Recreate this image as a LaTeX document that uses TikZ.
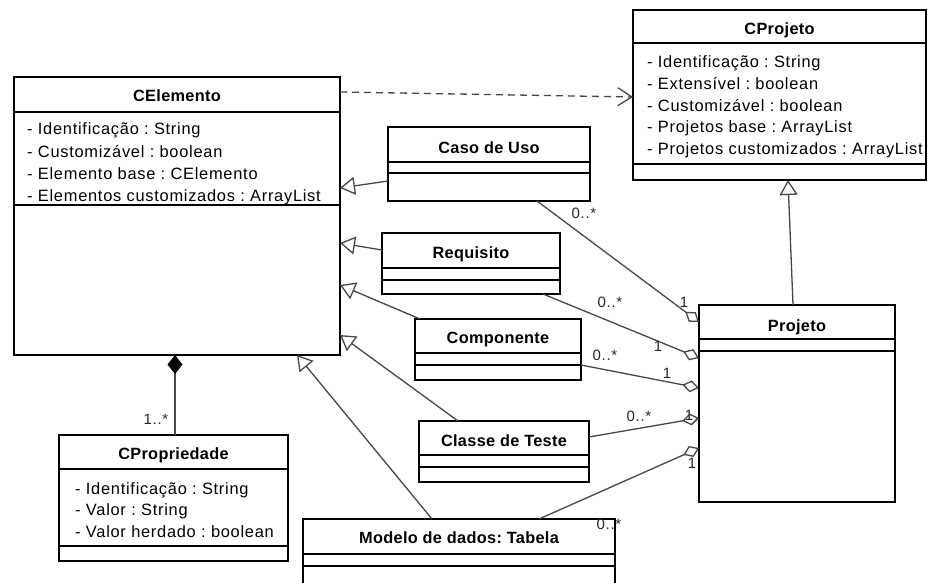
\documentclass[tikz,border=0pt]{standalone}
\usepackage{fontspec}
\setmainfont{Liberation Sans}
\newfontfamily\umlfont{Liberation Sans}[LetterSpace=4.5]
\newfontfamily\umltitlefont{Liberation Sans}[LetterSpace=2]
\usetikzlibrary{arrows.meta}
\frenchspacing

% A UML class box from its top-left (x1,y1) to bottom-right (x2,y2) corner
\newcommand\umlclass[5]{%
  \node[classbox, minimum width={(#4-#2)*1pt}, minimum height={(#5-#3)*1pt}] (#1) at (#2,#3) {};}
% A compartment separator across class #1 at height #2
\newcommand\cdivider[2]{\draw[divider] (#1.west |- 0,#2) -- (#1.east |- 0,#2);}

\begin{document}
\begin{tikzpicture}[x=1pt, y=-1pt,
  classbox/.style={draw, rectangle, line width=2.6pt, fill=white, inner sep=0pt, outer sep=0pt, anchor=north west},
  divider/.style={line width=1.6pt},
  ctitle/.style={font=\umltitlefont\fontsize{16.3}{18}\selectfont\bfseries, anchor=base, inner sep=0pt},
  attr/.style={font=\umlfont\fontsize{16.4}{18}\selectfont, anchor=base west, inner sep=0pt},
  link/.style={draw=black!72, line width=1.3pt},
  gen/.style={link, -{Triangle[open, length=15pt, width=18pt, line width=1.3pt]}},
  agg/.style={link, -{Diamond[open, length=17pt, width=12pt, line width=1.3pt]}},
  comp/.style={link, -{Diamond[length=19pt, width=15pt, color=black, fill=black]}},
  dep/.style={link, dash pattern=on 7pt off 5pt, -{Straight Barb[length=14pt, width=18pt, line width=1.3pt]}},
  mult/.style={font=\umlfont\fontsize{15}{17}\selectfont, inner sep=0pt, text=black!85},
]
\useasboundingbox[fill=white] (0,0) rectangle (928,583);

% ---- class boxes ----
\umlclass{celem}{14}{77}{340}{355}
\cdivider{celem}{112}\cdivider{celem}{205}
\node[ctitle] (celem-t) at (177,102) {CElemento};
\foreach \t [count=\i] in {- Identificação : String, - Customizável : boolean, - Elemento base : CElemento, - Elementos customizados : ArrayList}
  \node[attr] (celem-a\i) at (27,{135+22*(\i-1)}) {\t};

\umlclass{cproj}{633}{10}{926}{180}
\cdivider{cproj}{43}\cdivider{cproj}{164}
\node[ctitle] (cproj-t) at (779.5,35) {CProjeto};
\foreach \t [count=\i] in {- Identificação : String, - Extensível : boolean, - Customizável : boolean, - Projetos base : ArrayList, - Projetos customizados : ArrayList}
  \node[attr] (cproj-a\i) at (647,{67.5+21.8*(\i-1)}) {\t};

\umlclass{caso}{388}{127}{590}{201}
\cdivider{caso}{162}\cdivider{caso}{173}
\node[ctitle] (caso-t) at (489,153) {Caso de Uso};

\umlclass{req}{382}{233}{560}{294}
\cdivider{req}{268}\cdivider{req}{280}
\node[ctitle] (req-t) at (471,258) {Requisito};

\umlclass{compo}{415}{319}{581}{380}
\cdivider{compo}{353}\cdivider{compo}{365}
\node[ctitle] (compo-t) at (498,343) {Componente};

\umlclass{teste}{419}{421}{589}{482}
\cdivider{teste}{455}\cdivider{teste}{467}
\node[ctitle] (teste-t) at (504,446) {Classe de Teste};

\umlclass{modelo}{303}{519}{615}{592}
\cdivider{modelo}{554}\cdivider{modelo}{566}
\node[ctitle] (modelo-t) at (459,543) {Modelo de dados: Tabela};

\umlclass{cprop}{59}{435}{288}{561}
\cdivider{cprop}{469}\cdivider{cprop}{546}
\node[ctitle] (cprop-t) at (173.5,459) {CPropriedade};
\foreach \t [count=\i] in {- Identificação : String, - Valor : String, - Valor herdado : boolean}
  \node[attr] (cprop-a\i) at (75,{494+21.5*(\i-1)}) {\t};

\umlclass{proj}{699}{305}{895}{502}
\cdivider{proj}{339}\cdivider{proj}{351}
\node[ctitle] (proj-t) at (797,331) {Projeto};

% ---- dependency and generalisations ----
\draw[dep] (celem.east |- 0,92) -- (cproj.west |- 0,97);
\draw[gen] (proj.north -| 793,0) -- (cproj.south -| 788,0);
\draw[gen] (caso.west |- 0,181) -- (celem.east |- 0,188);
\draw[gen] (req.west |- 0,250) -- (celem.east |- 0,243);
\draw[gen] (compo.north -| 420,0) -- (celem.east |- 0,285);
\draw[gen] (teste.north -| 458,0) -- (celem.east |- 0,335);
\draw[gen] (modelo.north -| 432,0) -- (celem.south -| 297,0);

% ---- composition ----
\draw[comp] (cprop.north -| 175,0) -- (celem.south -| 175,0);
\node[mult] (m-prop) at (156,419) {1..*};

% ---- aggregations into Projeto ----
\draw[agg] (caso.south -| 537,0) -- (proj.west |- 0,322);
\node[mult] (m-caso-n) at (584,213) {0..*};
\node[mult] (m-caso-1) at (684,302) {1};

\draw[agg] (req.south -| 543,0) -- (proj.west |- 0,358);
\node[mult] (m-req-n) at (610,302) {0..*};
\node[mult] (m-req-1) at (658,346) {1};

\draw[agg] (compo.east |- 0,365) -- (proj.west |- 0,388);
\node[mult] (m-comp-n) at (605,355) {0..*};
\node[mult] (m-comp-1) at (667,373) {1};

\draw[agg] (teste.east |- 0,437) -- (proj.west |- 0,418);
\node[mult] (m-teste-n) at (639,416) {0..*};
\node[mult] (m-teste-1) at (689,415) {1};

\draw[agg] (modelo.north -| 539,0) -- (proj.west |- 0,448);
\node[mult] (m-mod-1) at (692,463) {1};
\node[mult] (m-mod-n) at (609,524) {0..*};
\end{tikzpicture}
\end{document}
